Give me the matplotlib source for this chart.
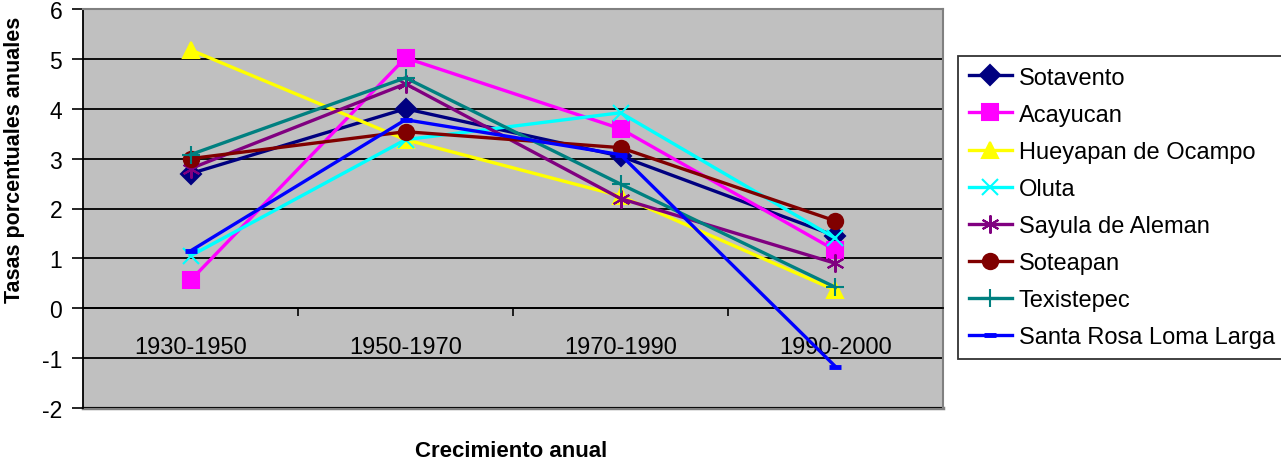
import matplotlib
matplotlib.use("Agg")
import matplotlib.pyplot as plt
from matplotlib.ticker import FixedLocator

plt.rcParams['font.family'] = ['Liberation Sans', 'DejaVu Sans']
plt.rcParams['axes.unicode_minus'] = False

categories = ["1930-1950", "1950-1970", "1970-1990", "1990-2000"]
sotavento = [2.7, 4.0, 3.05, 1.45]
acayucan = [0.56, 5.02, 3.6, 1.16]
hueyapan = [5.18, 3.38, 2.25, 0.36]
oluta = [1.05, 3.38, 3.92, 1.4]
sayula = [2.8, 4.5, 2.2, 0.9]
soteapan = [3.0, 3.54, 3.22, 1.75]
texistepec = [3.08, 4.62, 2.49, 0.42]
santa_rosa = [1.15, 3.78, 3.08, -1.17]

series = [
    ("Sotavento", sotavento, "#000080", "D", 10, 1.5),
    ("Acayucan", acayucan, "#FF00FF", "s", 11, 1.5),
    ("Hueyapan de Ocampo", hueyapan, "#FFFF00", "^", 12, 1.5),
    ("Oluta", oluta, "#00FFFF", "x", 11, 1.5),
    ("Sayula de Aleman", sayula, "#800080", (6, 2, 0), 13, 1.5),
    ("Soteapan", soteapan, "#800000", "o", 11, 1.5),
    ("Texistepec", texistepec, "#008080", "+", 13, 1.5),
    ("Santa Rosa Loma Larga", santa_rosa, "#0000FF", "_", 8, 3.5),
]

fig = plt.figure(figsize=(12.81, 4.64), dpi=100)
ax = fig.add_axes([83/1281, 1 - 409/464, (943-83)/1281, (409-10)/464])
ax.set_facecolor("#C0C0C0")

x = list(range(len(categories)))
for name, vals, col, mk, ms, mew in series:
    ax.plot(x, vals, color=col, lw=2.4, marker=mk, markersize=ms,
            markerfacecolor=col, markeredgecolor=col, markeredgewidth=mew,
            label=name, zorder=3)

ax.set_xlim(-0.5, 3.5)
ax.set_ylim(-2, 6)
ax.set_yticks(range(-2, 7))
ax.yaxis.grid(True, color="black", lw=1.3, zorder=1)
ax.set_axisbelow(True)
ax.tick_params(axis='y', labelsize=16.5, length=8, width=1.2, direction='out', pad=7)

ax.xaxis.set_major_locator(FixedLocator(x))
ax.set_xticklabels(categories)
ax.xaxis.set_minor_locator(FixedLocator([0.5, 1.5, 2.5]))
ax.tick_params(axis='x', which='major', length=0, labelsize=17, pad=20)
ax.tick_params(axis='x', which='minor', length=6, width=1.2, direction='out')
ax.spines['bottom'].set_position(('data', 0))
ax.spines['bottom'].set_color('black')
ax.spines['bottom'].set_linewidth(1.3)
ax.spines['left'].set_color('black')
ax.spines['left'].set_linewidth(1.3)
ax.spines['top'].set_color('#808080')
ax.spines['right'].set_color('#808080')
ax.spines['top'].set_linewidth(1.5)
ax.spines['right'].set_linewidth(1.5)
# bottom frame of plot area (gray)
ax.axhline(-2, color='#808080', lw=2.5, zorder=0.5, clip_on=False)

fig.text(15/1281, 1 - 160/464, "Tasas porcentuales anuales", fontsize=15.5,
         fontweight='bold', rotation=90, ha='center', va='center')
fig.text((415+607)/2/1281, 1 - 452/464, "Crecimiento anual", fontsize=16,
         fontweight='bold', ha='center', va='center')

leg = fig.legend(loc='upper left', bbox_to_anchor=(958/1281, 1 - 57/464),
                 fontsize=17, frameon=True, fancybox=False, edgecolor='black',
                 handlelength=1.85, handletextpad=0.28, labelspacing=0.64,
                 borderpad=0.45, borderaxespad=0)
leg.get_frame().set_linewidth(1.3)

fig.savefig("out.png", dpi=100)
